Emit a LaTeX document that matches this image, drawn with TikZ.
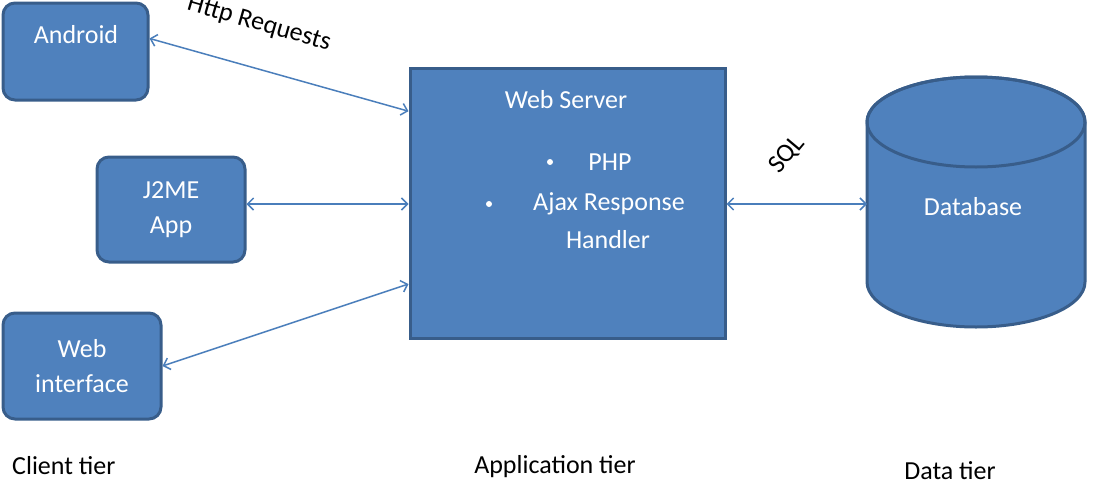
\documentclass[tikz,border=0pt]{standalone}
\usepackage{fontspec}
\setmainfont{Carlito}
\usetikzlibrary{arrows.meta,calc}
\definecolor{boxfill}{HTML}{4F81BD}
\definecolor{boxdraw}{HTML}{385D8A}
\definecolor{linkcol}{HTML}{4A7EBB}
\begin{document}
\begin{tikzpicture}[x=1pt,y=1pt,
  cbox/.style={draw=boxdraw,fill=boxfill,line width=3pt,rounded corners=12pt,inner sep=0pt,
    text=white,align=center,font=\fontsize{26}{35}\selectfont},
  wtext/.style={text=white,font=\fontsize{26}{30}\selectfont,inner sep=0pt},
  ktext/.style={text=black,font=\fontsize{26}{30}\selectfont,inner sep=0pt},
  link/.style={draw=linkcol,line width=1.5pt,{Straight Barb[length=6pt,width=12pt]}-{Straight Barb[length=6pt,width=12pt]}},
  bullet/.style={circle,fill=white,inner sep=0pt,minimum size=6pt}
]
\useasboundingbox (0,0) rectangle (1100,-482);
% client boxes
\node[cbox,minimum width=145pt,minimum height=97pt] (android) at (75.5,-51.5) {};
\node[wtext] (androidtxt) at (76,-35) {Android};
\node[cbox,minimum width=148pt,minimum height=105pt] (j2me) at (171,-209.5) {J2ME\\App};
\node[cbox,minimum width=158pt,minimum height=106pt] (webif) at (82,-366) {Web\\interface};
% server
\node[draw=boxdraw,fill=boxfill,line width=3pt,minimum width=315pt,minimum height=270pt,inner sep=0pt] (server) at (567.5,-203) {};
\node[wtext] (ws) at (566,-100) {Web Server};
\node[bullet] (b1) at (550,-162) {};
\node[wtext] (php) at (610,-162) {PHP};
\node[bullet] (b2) at (489,-204) {};
\node[wtext] (ajax) at (609,-204) {Ajax Response};
\node[wtext] (handler) at (608,-240) {Handler};
% database cylinder
\path[draw=boxdraw,fill=boxfill,line width=3pt] (867,-122) -- (867,-282) arc[start angle=180,end angle=360,x radius=109,y radius=45] -- (1085,-122) arc[start angle=0,end angle=180,x radius=109,y radius=45] -- cycle;
\draw[boxdraw,line width=3pt] (976,-122) ellipse[x radius=109,y radius=45];
\coordinate (dbw) at (867,-204);
\node[wtext] (db) at (973,-207) {Database};
% connectors
\draw[link] (android.10) -- (server.150);
\draw[link] (j2me.east |- 0,-204) coordinate (j2r) -- (server.west |- j2r);
\draw[link] (webif.east) -- (server.207);
\draw[link] (server.east |- dbw) -- (dbw);
% labels
\node[ktext,rotate=-16] (http) at (259,-24) {Http Requests};
\node[ktext,rotate=50] (sql) at (787,-155) {SQL};
\node[ktext,anchor=west] (client) at (12,-466) {Client tier};
\node[ktext] (app) at (555,-467) {Application tier};
\node[ktext] (data) at (950,-471) {Data tier};
\end{tikzpicture}
\end{document}
